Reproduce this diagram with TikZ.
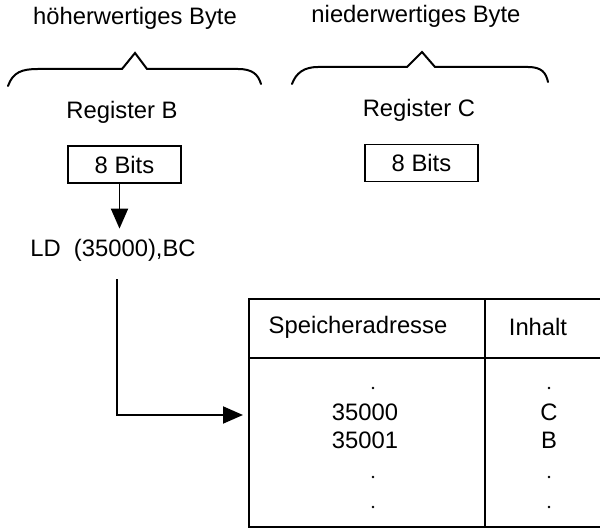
\documentclass[tikz,border=0pt]{standalone}
\usepackage{fontspec}
\setmainfont{Liberation Sans}
\usetikzlibrary{arrows.meta}

\begin{document}
\begin{tikzpicture}
  [x=1pt, y=-1pt,
  font=\fontsize{23.8}{28}\selectfont,
  line width=1.9pt,
  bitbox/.style={draw, minimum width=113pt, minimum height=37pt, inner sep=0pt},
  arr/.style={-{Triangle[length=20pt, width=17pt]}},
  brace/.style={line width=2pt, line cap=round}]
  \useasboundingbox (0,0) rectangle (600,529);
  % the two bytes
  \node (hiByte) at (135,18) {höherwertiges Byte};
  \node (loByte) at (416,16) {niederwertiges Byte};
  \draw[brace] (8,86) .. controls (13,72) and (22,69) .. (38,69) -- (122,69)
    -- (135,53) -- (147,69) -- (238,69) .. controls (252,69) and (258,74) .. (261,84);
  \draw[brace] (292,84) .. controls (296,73) and (304,67) .. (318,67) -- (407,67)
    -- (422,52) -- (435,67) -- (528,67) .. controls (542,67) and (546,73) .. (548,82);
  \node (regB) at (122,112) {Register B};
  \node (regC) at (419,110) {Register C};
  \node[bitbox] (bitsB) at (124.5,164.5) {8 Bits};
  \node[bitbox] (bitsC) at (421.5,163) {8 Bits};
  \node (ldcmd) at (113,250) {LD\ \ (35000),BC};
  \draw[arr, shorten >=6pt] ([xshift=-5pt]bitsB.south) -- ([xshift=-5pt]bitsB.south |- ldcmd.north);
  % memory table
  \coordinate (tblIn) at (249,415);
  \draw (600,299) -- (249,299) -- (249,527) -- (600,527);
  \draw (249,358) -- (600,358);
  \draw (485,299) -- (485,527);
  \node (addrHead) at (358,327) {Speicheradresse};
  \node (dataHead) at (538,327) {Inhalt};
  \node (addr0) at (365,412) {35000};
  \node (addr1) at (365,440) {35001};
  \node (data0) at (549,412) {C};
  \node (data1) at (549,440) {B};
  \foreach \y in {388,477,507} {
    \fill (373,\y) circle (1.3pt);
    \fill (549,\y) circle (1.3pt);
  }
  \draw[arr, shorten <=14pt] ([xshift=4pt]ldcmd.south) |- ([xshift=-6pt]tblIn);
\end{tikzpicture}
\end{document}
